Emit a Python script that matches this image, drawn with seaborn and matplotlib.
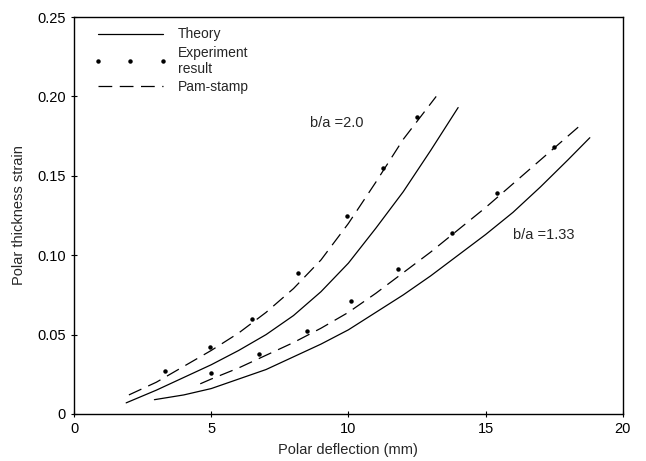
import matplotlib
matplotlib.use("Agg")
import matplotlib.pyplot as plt
import seaborn as sns

# ---- data ----
# b/a = 2.0
theory_20_x = [1.9, 3, 4, 5, 6, 7, 8, 9, 10, 11, 12, 13, 14.0]
theory_20_y = [0.007, 0.015, 0.023, 0.031, 0.040, 0.050, 0.062, 0.077, 0.095, 0.117, 0.140, 0.166, 0.193]
pam_20_x = [2.0, 3, 4, 5, 6, 7, 8, 9, 10, 11, 12, 13.2]
pam_20_y = [0.012, 0.020, 0.030, 0.040, 0.051, 0.064, 0.079, 0.097, 0.120, 0.146, 0.173, 0.200]
exp_20_x = [3.3, 4.95, 6.5, 8.17, 9.96, 11.25, 12.5]
exp_20_y = [0.027, 0.042, 0.060, 0.089, 0.125, 0.155, 0.187]

# b/a = 1.33
theory_133_x = [2.93, 4, 5, 6, 7, 8, 9, 10, 11, 12, 13, 14, 15, 16, 17, 18, 18.8]
theory_133_y = [0.009, 0.012, 0.016, 0.022, 0.028, 0.036, 0.044, 0.053, 0.064, 0.075, 0.087, 0.100, 0.113, 0.127, 0.143, 0.160, 0.174]
pam_133_x = [4.6, 5, 6, 7, 8, 9, 10, 11, 12, 13, 14, 15, 16, 17, 18, 18.4]
pam_133_y = [0.019, 0.022, 0.029, 0.037, 0.045, 0.054, 0.064, 0.076, 0.089, 0.102, 0.116, 0.130, 0.145, 0.160, 0.175, 0.181]
exp_133_x = [4.98, 6.74, 8.5, 10.1, 11.8, 13.77, 15.4, 17.5]
exp_133_y = [0.026, 0.038, 0.052, 0.071, 0.091, 0.114, 0.139, 0.168]

x_ticks = [0, 5, 10, 15, 20]
y_ticks = [0, 0.05, 0.10, 0.15, 0.20, 0.25]
y_tick_labels = ["0", "0.05", "0.10", "0.15", "0.20", "0.25"]
legend_labels = ["Theory", "Experiment\nresult", "Pam-stamp"]

sns.set_style("white")
plt.rcParams["font.family"] = ["Liberation Sans", "DejaVu Sans"]

fig = plt.figure(figsize=(6.46, 4.61), dpi=100)
ax = fig.add_axes([0.1146, 0.102, 0.8494, 0.861])

lw = 0.9
dash = (11, 6)

sns.lineplot(x=theory_20_x, y=theory_20_y, ax=ax, color="black", lw=lw,
             estimator=None, sort=False)
sns.lineplot(x=theory_133_x, y=theory_133_y, ax=ax, color="black", lw=lw,
             estimator=None, sort=False)
sns.lineplot(x=pam_20_x, y=pam_20_y, ax=ax, color="black", lw=lw,
             estimator=None, sort=False)
sns.lineplot(x=pam_133_x, y=pam_133_y, ax=ax, color="black", lw=lw,
             estimator=None, sort=False)
for ln in ax.lines[2:4]:
    ln.set_dashes(dash)

ax.plot(exp_20_x + exp_133_x, exp_20_y + exp_133_y, linestyle="none",
        marker="o", ms=2.2, color="black")

handles = [ax.lines[0], ax.lines[4], ax.lines[2]]
ax.legend(handles, legend_labels, loc="upper left", frameon=False, fontsize=10,
          handlelength=5.3, numpoints=3, bbox_to_anchor=(0.02, 0.995),
          borderaxespad=0.2, labelspacing=0.3, handletextpad=0.8)

ax.text(8.6, 0.183, "b/a =2.0", fontsize=10.5, va="center", ha="left")
ax.text(16.0, 0.113, "b/a =1.33", fontsize=10.5, va="center", ha="left")

ax.set_xlim(0, 20)
ax.set_ylim(0, 0.25)
ax.set_xticks(x_ticks)
ax.set_xticklabels([str(t) for t in x_ticks])
ax.set_yticks(y_ticks)
ax.set_yticklabels(y_tick_labels)
ax.tick_params(axis="both", direction="inout", length=4, width=0.8,
               labelsize=10.5, colors="black", left=True, bottom=True, pad=4)
ax.set_xlabel("Polar deflection (mm)", fontsize=10.5, labelpad=5)
ax.set_ylabel("Polar thickness strain", fontsize=10.5, labelpad=8)
for s in ax.spines.values():
    s.set_color("black")
    s.set_linewidth(1.0)

fig.savefig("out.png", dpi=100)
